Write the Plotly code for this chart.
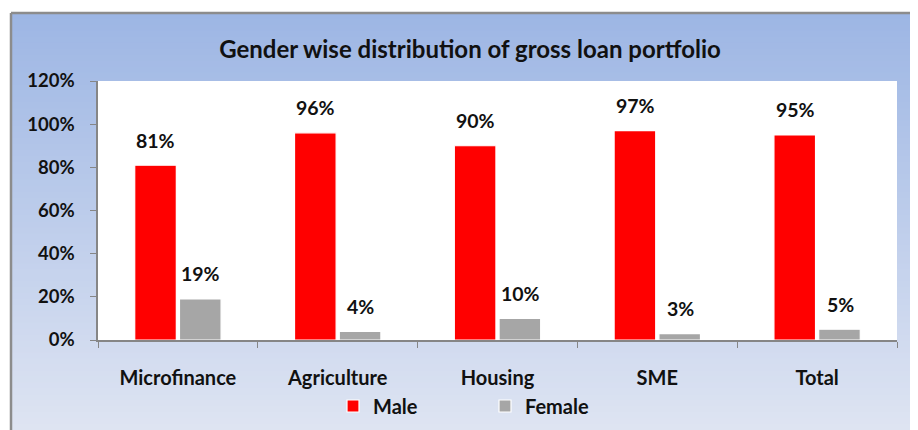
import plotly.graph_objects as go

categories = ["Microfinance", "Agriculture", "Housing", "SME", "Total"]
male = [81, 96, 90, 97, 95]
female = [19, 4, 10, 3, 5]
y_ticks = [0, 20, 40, 60, 80, 100, 120]
y_tick_labels = [f"{v}%" for v in y_ticks]

OFF = 8  # page body margin offset
W, H = 918 - OFF, 430 - OFF
FONT = "Lato"
TXT = "#111111"

# plot area in figure pixels
L, R, T, B = 98 - OFF, 897 - OFF, 81 - OFF, 340 - OFF
PW, PH = R - L, B - T


def px(fx):
    return (fx - L) / PW


def py(fy):
    return (B - fy) / PH


fig = go.Figure()
fig.add_trace(go.Bar(name="Male", x=categories, y=male,
                     marker=dict(color="#FF0000", line=dict(color="white", width=1.2))))
fig.add_trace(go.Bar(name="Female", x=categories, y=female,
                     marker=dict(color="#A6A6A6", line=dict(color="white", width=1.2))))

LBL = dict(family=FONT, size=19.5, color=TXT, weight="bold")
for cat, m, f in zip(categories, male, female):
    fig.add_annotation(x=cat, y=m, xref="x", yref="y", text=f"{m}%", showarrow=False,
                       xshift=-22, yshift=25, yanchor="middle", font=LBL)
    fig.add_annotation(x=cat, y=f, xref="x", yref="y", text=f"{f}%", showarrow=False,
                       xshift=23, yshift=25, yanchor="middle", font=LBL)

# gradient background (styling)
top_c = (157, 182, 228)
bot_c = (222, 228, 242)
fx0 = 11 - OFF
fy0 = 13 - OFF
n = 70
shapes = []
for i in range(n):
    t = i / (n - 1)
    c = tuple(int(round(top_c[k] + (bot_c[k] - top_c[k]) * t)) for k in range(3))
    ya = fy0 + (H - fy0) * i / n
    yb = fy0 + (H - fy0) * (i + 1) / n + 1
    shapes.append(dict(type="rect", xref="paper", yref="paper", x0=px(fx0), x1=px(W + 2),
                       y0=py(yb), y1=py(ya), fillcolor=f"rgb{c}", line=dict(width=0),
                       layer="below"))
shapes.append(dict(type="rect", xref="x domain", yref="y domain", x0=0, x1=1, y0=0, y1=1,
                   fillcolor="white", line=dict(width=0), layer="below"))
shapes.append(dict(type="line", xref="paper", yref="paper", x0=px(fx0), x1=px(fx0),
                   y0=py(H + 2), y1=py(fy0), line=dict(color="#8C8C8C", width=2.5), layer="above"))
shapes.append(dict(type="line", xref="paper", yref="paper", x0=px(fx0), x1=px(W + 2),
                   y0=py(fy0), y1=py(fy0), line=dict(color="#8C8C8C", width=2.5), layer="above"))

fig.update_layout(
    width=W, height=H,
    margin=dict(l=L, r=W - R, t=T, b=H - B, autoexpand=False),
    paper_bgcolor="white",
    plot_bgcolor="rgba(0,0,0,0)",
    barmode="group",
    bargap=0.44,
    bargroupgap=0.07,
    shapes=shapes,
    title=dict(text="Gender wise distribution of gross loan portfolio",
               x=(470 - OFF) / W, xanchor="center", y=1 - (50 - OFF) / H, yanchor="middle",
               font=dict(family=FONT, size=24, color=TXT, weight="bold")),
    legend=dict(orientation="h", xref="container", yref="container",
                x=(485 - OFF) / W, xanchor="center", y=1 - (406 - OFF) / H, yanchor="middle",
                font=dict(family=FONT, size=20, color=TXT, weight="bold"),
                bgcolor="rgba(0,0,0,0)", entrywidth=107),
    showlegend=True,
    xaxis=dict(showline=True, linecolor="#868686", linewidth=1.5,
               ticks="outside", tickson="boundaries", ticklen=6, tickcolor="#868686",
               tickfont=dict(family=FONT, size=20, color=TXT, weight="bold"),
               ticklabelstandoff=19, showgrid=False),
    yaxis=dict(range=[0, 120], tickvals=y_ticks, ticktext=y_tick_labels,
               showline=True, linecolor="#868686", linewidth=1.5,
               ticks="outside", ticklen=6, tickcolor="#868686",
               tickfont=dict(family=FONT, size=18.5, color=TXT, weight="bold"),
               ticklabelstandoff=12, showgrid=False, zeroline=False),
)

fig.write_html("out.html")
